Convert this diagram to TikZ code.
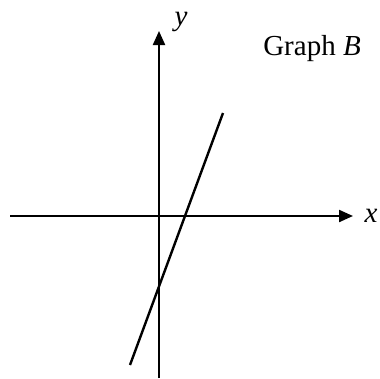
\documentclass[tikz,border=0pt]{standalone}
\usepackage{fontspec}
\setmainfont{Liberation Serif}
\usetikzlibrary{arrows.meta}
\begin{document}
\begin{tikzpicture}[x=1pt,y=-1pt,
  axis/.style={line width=2.2pt,-{Triangle[length=14pt,width=12pt]}},
  graphline/.style={line width=2.4pt},
  lbl/.style={font=\fontsize{29}{31}\selectfont,inner sep=0pt}]
\useasboundingbox (0,0) rectangle (380,378);
\coordinate (xs) at (10,216);
\coordinate (xe) at (353,216);
\coordinate (ys) at (159,378);
\coordinate (ye) at (159,31);
\draw[axis] (xs) -- (xe);
\draw[axis] (ys) -- (ye);
\coordinate (la) at (130,365);
\coordinate (lb) at (223,113);
\draw[graphline] (la) -- (lb);
\node[lbl] (ylab) at (181,22) {\textit{y}};
\node[lbl] (xlab) at (371,216) {\textit{x}};
\node[lbl] (title) at (312,49) {Graph \textit{B}};
\end{tikzpicture}
\end{document}
